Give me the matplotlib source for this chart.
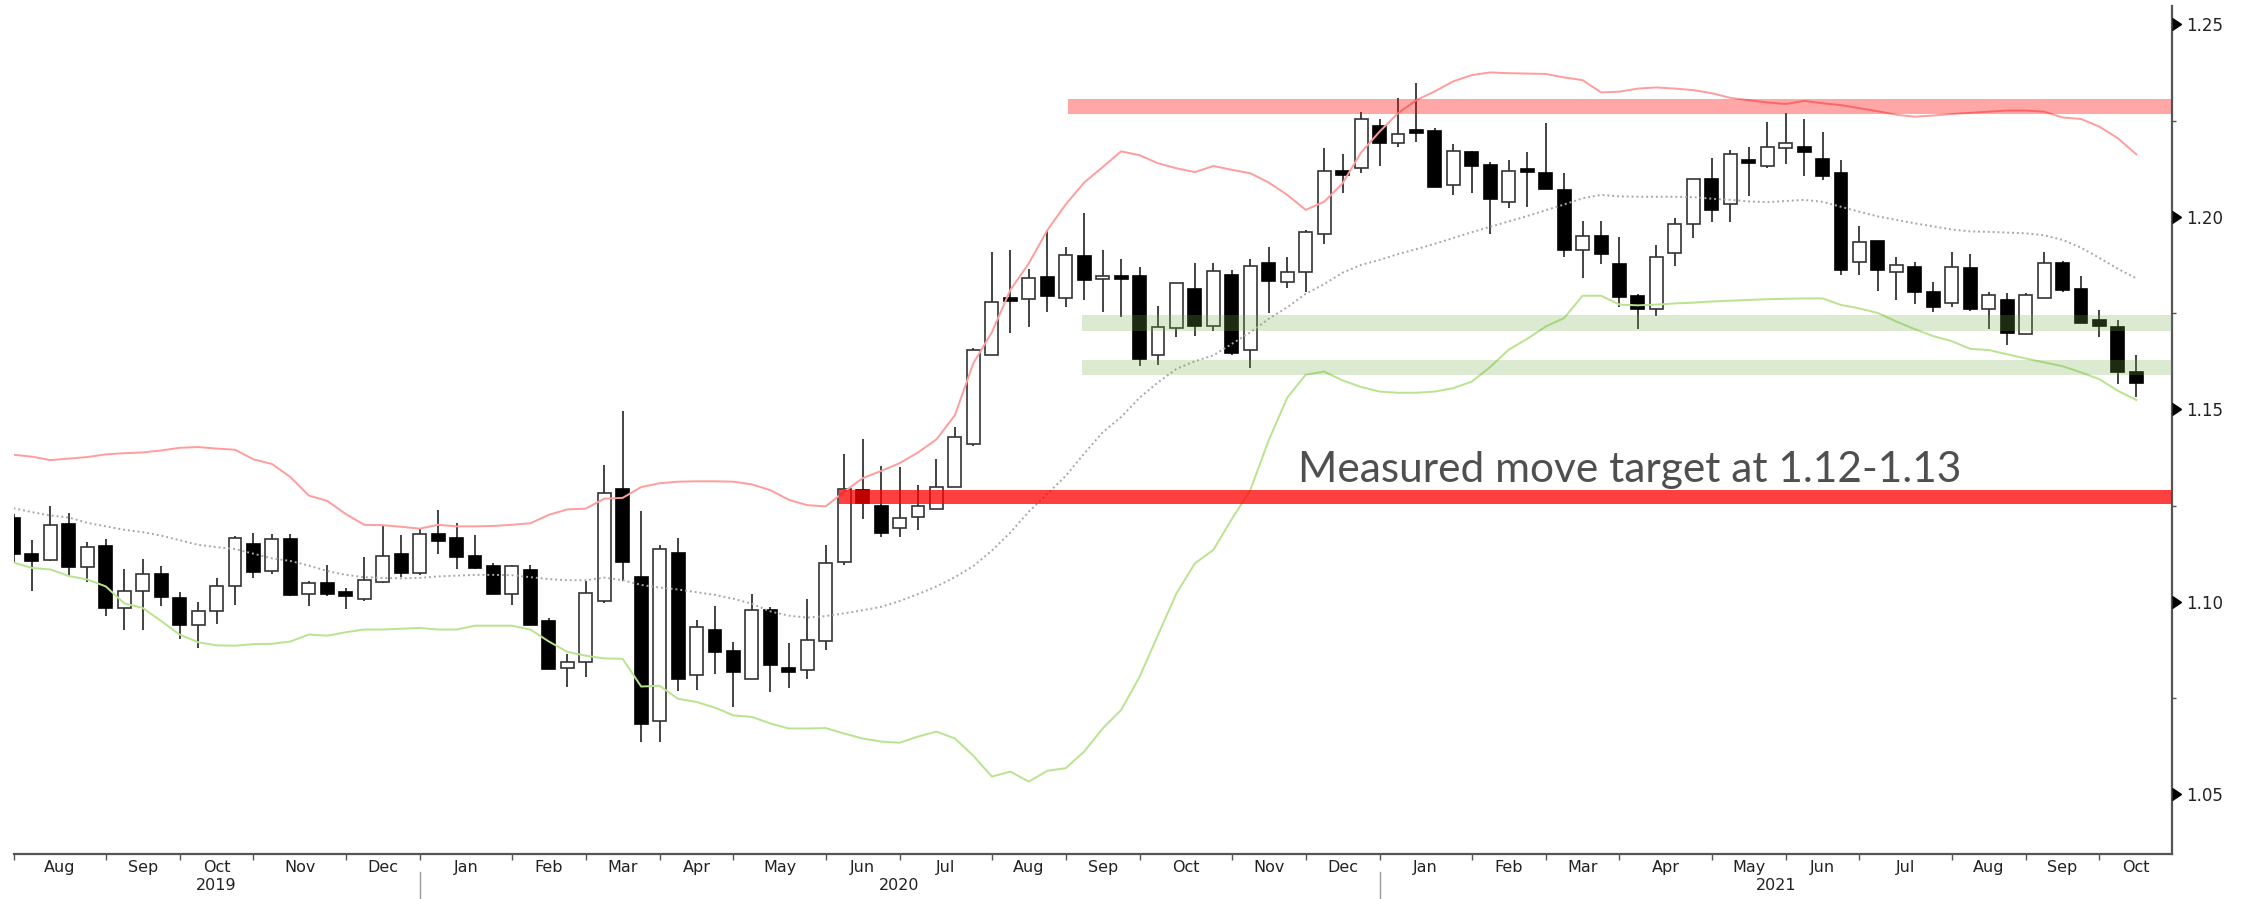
import numpy as np
import pandas as pd
import matplotlib
matplotlib.use('Agg')
import matplotlib.pyplot as plt
from matplotlib import transforms

# Weekly EUR/USD candles with 20w Bollinger bands
week_ending = pd.date_range('2019-07-26', periods=116, freq='W-FRI')

opens = [1.1217, 1.1125, 1.1108, 1.1202, 1.1090, 1.1145, 1.0985, 1.1027, 1.1073, 1.1010,
         1.0940, 1.0977, 1.1040, 1.1150, 1.1080, 1.1162, 1.1019, 1.1050, 1.1025, 1.1008,
         1.1052, 1.1125, 1.1074, 1.1177, 1.1167, 1.1119, 1.1092, 1.1019, 1.1082, 1.0950,
         1.0829, 1.0843, 1.1002, 1.1293, 1.1065, 1.0691, 1.1128, 1.0809, 1.0928, 1.0871,
         1.0799, 1.0978, 1.0827, 1.0823, 1.0898, 1.1104, 1.1290, 1.1250, 1.1191, 1.1221,
         1.1241, 1.1299, 1.1410, 1.1641, 1.1789, 1.1786, 1.1844, 1.1788, 1.1898, 1.1839,
         1.1844, 1.1846, 1.1640, 1.1710, 1.1813, 1.1717, 1.1848, 1.1654, 1.1881, 1.1830,
         1.1857, 1.1955, 1.2119, 1.2126, 1.2235, 1.2191, 1.2225, 1.2223, 1.2083, 1.2168,
         1.2134, 1.2039, 1.2122, 1.2113, 1.2070, 1.1914, 1.1951, 1.1878, 1.1795, 1.1760,
         1.1907, 1.1981, 1.2097, 1.2033, 1.2148, 1.2133, 1.2178, 1.2180, 1.2150, 1.2113,
         1.1883, 1.1938, 1.1856, 1.1870, 1.1804, 1.1775, 1.1868, 1.1760, 1.1784, 1.1695,
         1.1788, 1.1881, 1.1813, 1.1732, 1.1715, 1.1596]
highs = [1.1228, 1.1160, 1.1250, 1.1231, 1.1155, 1.1164, 1.1085, 1.1110, 1.1092, 1.1025,
         1.1000, 1.1063, 1.1172, 1.1179, 1.1176, 1.1175, 1.1054, 1.1096, 1.1037, 1.1117,
         1.1199, 1.1173, 1.1188, 1.1239, 1.1205, 1.1173, 1.1101, 1.1096, 1.1095, 1.0958,
         1.0864, 1.1054, 1.1355, 1.1496, 1.1236, 1.1147, 1.1165, 1.0952, 1.0990, 1.0895,
         1.1019, 1.0986, 1.0893, 1.1008, 1.1147, 1.1384, 1.1422, 1.1352, 1.1350, 1.1303,
         1.1372, 1.1453, 1.1660, 1.1909, 1.1914, 1.1864, 1.1966, 1.1922, 1.2009, 1.1914,
         1.1890, 1.1870, 1.1768, 1.1827, 1.1881, 1.1881, 1.1862, 1.1890, 1.1922, 1.1895,
         1.1965, 1.2178, 1.2163, 1.2273, 1.2254, 1.2309, 1.2347, 1.2230, 1.2189, 1.2170,
         1.2143, 1.2147, 1.2167, 1.2243, 1.2113, 1.1989, 1.1989, 1.1948, 1.1800, 1.1927,
         1.1996, 1.2097, 1.2152, 1.2173, 1.2180, 1.2245, 1.2269, 1.2253, 1.2219, 1.2147,
         1.1976, 1.1938, 1.1895, 1.1882, 1.1831, 1.1908, 1.1903, 1.1804, 1.1801, 1.1803,
         1.1908, 1.1884, 1.1846, 1.1758, 1.1732, 1.1641]
lows = [1.1101, 1.1027, 1.1106, 1.1066, 1.1052, 1.0964, 1.0926, 1.0927, 1.0990, 1.0903,
        1.0879, 1.0942, 1.0992, 1.1063, 1.1073, 1.1014, 1.0988, 1.1015, 1.0981, 1.1002,
        1.1048, 1.1065, 1.1069, 1.1125, 1.1086, 1.1085, 1.1020, 1.0992, 1.0940, 1.0825,
        1.0778, 1.0806, 1.0998, 1.1055, 1.0636, 1.0637, 1.0769, 1.0770, 1.0812, 1.0727,
        1.0799, 1.0766, 1.0776, 1.0800, 1.0875, 1.1095, 1.1215, 1.1168, 1.1168, 1.1187,
        1.1240, 1.1297, 1.1405, 1.1640, 1.1698, 1.1714, 1.1753, 1.1767, 1.1784, 1.1753,
        1.1740, 1.1612, 1.1615, 1.1689, 1.1690, 1.1704, 1.1640, 1.1607, 1.1749, 1.1816,
        1.1804, 1.1929, 1.2061, 1.2113, 1.2132, 1.2182, 1.2195, 1.2078, 1.2057, 1.2061,
        1.1955, 1.2022, 1.2026, 1.2073, 1.1896, 1.1840, 1.1877, 1.1765, 1.1708, 1.1742,
        1.1873, 1.1944, 1.1987, 1.1987, 1.2054, 1.2128, 1.2137, 1.2106, 1.2096, 1.1849,
        1.1849, 1.1808, 1.1784, 1.1773, 1.1754, 1.1765, 1.1756, 1.1708, 1.1667, 1.1695,
        1.1788, 1.1805, 1.1725, 1.1689, 1.1566, 1.1531]
closes = [1.1123, 1.1105, 1.1200, 1.1090, 1.1143, 1.0985, 1.1027, 1.1073, 1.1013, 1.0939,
          1.0977, 1.1040, 1.1167, 1.1078, 1.1162, 1.1017, 1.1048, 1.1019, 1.1016, 1.1056,
          1.1118, 1.1074, 1.1176, 1.1158, 1.1117, 1.1089, 1.1021, 1.1092, 1.0941, 1.0825,
          1.0843, 1.1023, 1.1282, 1.1103, 1.0682, 1.1138, 1.0800, 1.0934, 1.0869, 1.0819,
          1.0978, 1.0836, 1.0818, 1.0901, 1.1100, 1.1292, 1.1256, 1.1178, 1.1218, 1.1249,
          1.1299, 1.1427, 1.1654, 1.1779, 1.1782, 1.1840, 1.1794, 1.1901, 1.1836, 1.1846,
          1.1840, 1.1630, 1.1715, 1.1827, 1.1716, 1.1860, 1.1647, 1.1872, 1.1832, 1.1856,
          1.1961, 1.2119, 1.2109, 1.2254, 1.2191, 1.2215, 1.2218, 1.2078, 1.2171, 1.2133,
          1.2045, 1.2120, 1.2117, 1.2073, 1.1914, 1.1951, 1.1904, 1.1792, 1.1760, 1.1896,
          1.1980, 1.2097, 1.2018, 1.2163, 1.2141, 1.2180, 1.2191, 1.2168, 1.2106, 1.1862,
          1.1934, 1.1862, 1.1875, 1.1804, 1.1767, 1.1870, 1.1761, 1.1796, 1.1697, 1.1796,
          1.1881, 1.1811, 1.1725, 1.1717, 1.1596, 1.1569]

bb_upper = [1.1382, 1.1377, 1.1368, 1.1372, 1.1376, 1.1383, 1.1386, 1.1388, 1.1393, 1.1400,
            1.1402, 1.1398, 1.1395, 1.1370, 1.1358, 1.1324, 1.1276, 1.1262, 1.1228, 1.1200,
            1.1199, 1.1195, 1.1190, 1.1200, 1.1196, 1.1196, 1.1197, 1.1200, 1.1204, 1.1226,
            1.1240, 1.1242, 1.1268, 1.1270, 1.1298, 1.1308, 1.1312, 1.1313, 1.1313, 1.1312,
            1.1305, 1.1290, 1.1265, 1.1251, 1.1248, 1.1286, 1.1321, 1.1340, 1.1360, 1.1388,
            1.1422, 1.1485, 1.1620, 1.1700, 1.1810, 1.1879, 1.1965, 1.2032, 1.2089, 1.2129,
            1.2170, 1.2160, 1.2139, 1.2126, 1.2116, 1.2132, 1.2122, 1.2113, 1.2089, 1.2057,
            1.2018, 1.2039, 1.2087, 1.2167, 1.2221, 1.2269, 1.2303, 1.2326, 1.2352, 1.2368,
            1.2375, 1.2373, 1.2372, 1.2371, 1.2362, 1.2355, 1.2323, 1.2325, 1.2333, 1.2336,
            1.2333, 1.2329, 1.2321, 1.2309, 1.2303, 1.2297, 1.2293, 1.2301, 1.2295, 1.2290,
            1.2282, 1.2274, 1.2265, 1.2260, 1.2263, 1.2267, 1.2270, 1.2273, 1.2276, 1.2276,
            1.2273, 1.2258, 1.2254, 1.2234, 1.2204, 1.2162]
bb_mid = [1.1243, 1.1233, 1.1224, 1.1219, 1.1205, 1.1196, 1.1187, 1.1181, 1.1172, 1.1160,
          1.1148, 1.1142, 1.1137, 1.1125, 1.1113, 1.1106, 1.1094, 1.1080, 1.1070, 1.1064,
          1.1062, 1.1061, 1.1062, 1.1066, 1.1068, 1.1070, 1.1070, 1.1069, 1.1064, 1.1059,
          1.1056, 1.1056, 1.1063, 1.1056, 1.1044, 1.1037, 1.1032, 1.1025, 1.1018, 1.1008,
          1.0995, 1.0975, 1.0964, 1.0959, 1.0963, 1.0970, 1.0978, 1.0987, 1.1002, 1.1020,
          1.1040, 1.1064, 1.1093, 1.1133, 1.1180, 1.1234, 1.1280, 1.1327, 1.1385, 1.1440,
          1.1480, 1.1530, 1.1570, 1.1605, 1.1625, 1.1640, 1.1670, 1.1700, 1.1735, 1.1765,
          1.1800, 1.1825, 1.1855, 1.1875, 1.1888, 1.1903, 1.1916, 1.1930, 1.1945, 1.1960,
          1.1974, 1.1988, 1.2002, 1.2017, 1.2032, 1.2048, 1.2057, 1.2053, 1.2052, 1.2052,
          1.2052, 1.2051, 1.2047, 1.2044, 1.2040, 1.2038, 1.2041, 1.2044, 1.2039, 1.2026,
          1.2013, 1.2001, 1.1992, 1.1983, 1.1975, 1.1967, 1.1962, 1.1961, 1.1959, 1.1957,
          1.1952, 1.1940, 1.1920, 1.1893, 1.1865, 1.1840]
bb_lower = [1.1102, 1.1088, 1.1084, 1.1067, 1.1058, 1.1040, 1.0996, 1.0984, 1.0950, 1.0915,
            1.0895, 1.0887, 1.0886, 1.0890, 1.0891, 1.0897, 1.0915, 1.0912, 1.0921, 1.0928,
            1.0928, 1.0930, 1.0932, 1.0928, 1.0928, 1.0938, 1.0938, 1.0938, 1.0928, 1.0897,
            1.0870, 1.0860, 1.0853, 1.0852, 1.0780, 1.0782, 1.0748, 1.0740, 1.0725, 1.0705,
            1.0701, 1.0684, 1.0671, 1.0671, 1.0672, 1.0658, 1.0645, 1.0637, 1.0634, 1.0650,
            1.0663, 1.0645, 1.0600, 1.0546, 1.0559, 1.0533, 1.0561, 1.0568, 1.0611, 1.0671,
            1.0719, 1.0805, 1.0914, 1.1022, 1.1100, 1.1135, 1.1215, 1.1290, 1.1420, 1.1530,
            1.1590, 1.1598, 1.1575, 1.1558, 1.1546, 1.1543, 1.1543, 1.1546, 1.1555, 1.1572,
            1.1610, 1.1655, 1.1683, 1.1715, 1.1737, 1.1795, 1.1795, 1.1772, 1.1770, 1.1772,
            1.1775, 1.1777, 1.1780, 1.1782, 1.1784, 1.1786, 1.1787, 1.1788, 1.1788, 1.1771,
            1.1762, 1.1750, 1.1728, 1.1708, 1.1690, 1.1677, 1.1657, 1.1654, 1.1643, 1.1632,
            1.1622, 1.1612, 1.1596, 1.1578, 1.1548, 1.1524]

# shaded price zones (bottom, top, first week index)
zone_bottom = [1.2267, 1.1254, 1.1704, 1.1589]
zone_top = [1.2306, 1.1290, 1.1745, 1.1628]
zone_start = [57.1, 44.7, 57.9, 57.9]
zone_colors = [(1, 0, 0, 0.35), (1, 0, 0, 0.75), (0.44, 0.68, 0.28, 0.25), (0.44, 0.68, 0.28, 0.25)]

y_major = [1.05, 1.10, 1.15, 1.20, 1.25]
y_minor = [1.075, 1.125, 1.175, 1.225]
note = 'Measured move target at 1.12-1.13'

x_max = 116.93
fig = plt.figure(figsize=(22.44, 8.99), dpi=100)
ax = fig.add_axes([13.5 / 2244, 45 / 899, 2158.5 / 2244, 848 / 899])

x = np.arange(len(week_ending))
o, h, l, c = (np.array(v) for v in (opens, highs, lows, closes))
up = c > o
body_h = np.maximum(np.abs(c - o), 0.0008)
body_bot = (o + c) / 2 - body_h / 2

ax.vlines(x, l, h, color='#222222', lw=1.2, zorder=2)
ax.bar(x[up], body_h[up], bottom=body_bot[up], width=0.7, color='white',
       edgecolor='#333333', lw=1.2, zorder=3)
ax.bar(x[~up], body_h[~up], bottom=body_bot[~up], width=0.7, color='black',
       edgecolor='black', lw=1.2, zorder=3)

ax.plot(x, bb_upper, color='#FF9C9C', lw=1.4, zorder=4)
ax.plot(x, bb_mid, color='#A8A8A8', lw=1.4, ls=(0, (1, 1.5)), zorder=4)
ax.plot(x, bb_lower, color='#B9E38F', lw=1.4, zorder=4)

for lo, hi, x0, col in zip(zone_bottom, zone_top, zone_start, zone_colors):
    ax.fill_between([x0, x_max], lo, hi, color=col, lw=0, zorder=5)

ax.text(69.6, 1.1312, note, fontsize=30.5, family='Lato', color='#4F4F4F',
        va='baseline', ha='left', zorder=6)

ax.set_xlim(0, x_max)
ax.set_ylim(1.0345, 1.25475)

# y axis on the right with caret markers
for s in ['left', 'top']:
    ax.spines[s].set_visible(False)
for s in ['right', 'bottom']:
    ax.spines[s].set_color('#555555')
    ax.spines[s].set_linewidth(1.6)
ax.yaxis.tick_right()
ax.set_yticks(y_major)
ax.set_yticklabels(['%.2f' % v for v in y_major])
ax.set_yticks(y_minor, minor=True)
ax.tick_params(axis='y', which='major', length=0, pad=10, labelsize=12, labelcolor='#222222')
ax.tick_params(axis='y', which='minor', length=3, width=1, color='#555555', direction='out')
ax.plot([1] * len(y_major), y_major, marker=9, ms=9, color='black', ls='none',
        transform=transforms.blended_transform_factory(ax.transAxes, ax.transData),
        clip_on=False, zorder=7)

# month ticks at the last bar of each month, labels centred between ticks
tick_pos = [i for i in range(len(week_ending) - 1)
            if week_ending[i + 1].month != week_ending[i].month]
tick_lab = [week_ending[i + 1].strftime('%b') for i in tick_pos]
edges = tick_pos + [x_max]
label_pos = [(edges[k] + edges[k + 1]) / 2 for k in range(len(tick_pos))]
ax.set_xticks(tick_pos)
ax.set_xticklabels([''] * len(tick_pos))
ax.set_xticks(label_pos, minor=True)
ax.set_xticklabels(tick_lab, minor=True)
ax.tick_params(axis='x', which='major', length=4, width=1, color='#555555', direction='out')
ax.tick_params(axis='x', which='minor', length=0, pad=4, labelsize=11.5, labelcolor='#222222')

# years under the months, with separators at each January
jan_pos = [p for p, lab in zip(tick_pos, tick_lab) if lab == 'Jan']
year_edges = [0] + jan_pos + [x_max]
years = ['2019', '2020', '2021']
for k, yr in enumerate(years):
    ax.annotate(yr, xy=((year_edges[k] + year_edges[k + 1]) / 2, 0),
                xycoords=('data', 'axes fraction'), xytext=(0, -23),
                textcoords='offset points', ha='center', va='center',
                fontsize=11.5, color='#222222')
sep = transforms.blended_transform_factory(ax.transData, fig.transFigure)
for p in jan_pos:
    ax.plot([p, p], [0.0, 0.03], color='#999999', lw=1, transform=sep, clip_on=False)

fig.savefig('out.png', dpi=100)
